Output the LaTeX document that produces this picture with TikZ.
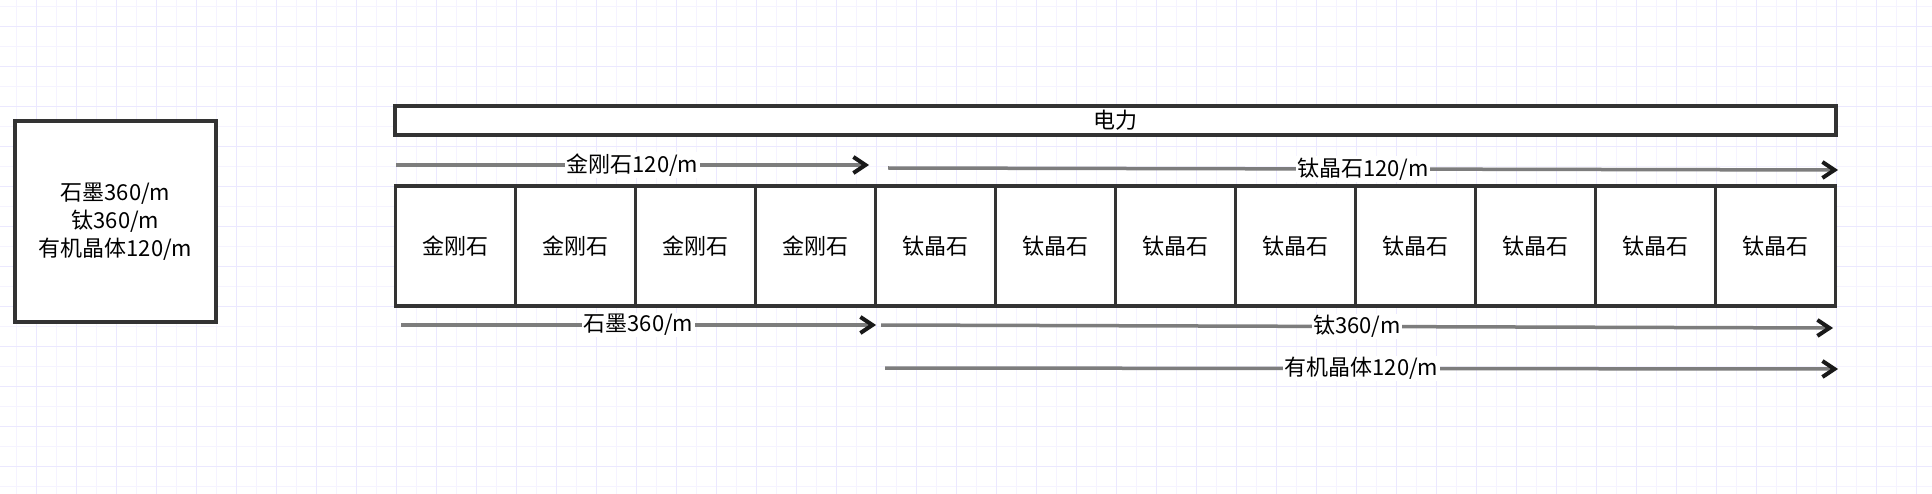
\documentclass[tikz,border=0pt]{standalone}
\usepackage{fontspec}
\setmainfont{Noto Sans CJK SC}
\usetikzlibrary{arrows.meta}
\definecolor{gridmin}{RGB}{245,243,255}
\definecolor{gridmaj}{RGB}{235,232,255}
\definecolor{edge}{RGB}{51,51,51}
\definecolor{shaft}{RGB}{125,125,125}
\tikzset{
  box/.style={draw=edge,line width=3.5pt,fill=white,inner sep=0pt},
  cell/.style={box,minimum width=120pt,minimum height=120pt},
  flow/.style={draw=shaft,line width=3.5pt,-{Straight Barb[length=12pt,width=16pt,line width=4pt,color=black!90]}},
  tag/.style={fill=white,inner sep=1.5pt}
}
\begin{document}
\begin{tikzpicture}[x=1pt,y=-1pt,font=\fontsize{22}{28}\selectfont]
        \useasboundingbox[fill=white] (0,0) rectangle (1932,494);
        % background grid
        \foreach \x in {16.7,56.7,...,1932} \draw[gridmin,line width=1.5pt] (\x,0) -- (\x,494);
        \foreach \y in {6.7,46.7,...,494} \draw[gridmin,line width=1.5pt] (0,\y) -- (1932,\y);
        \foreach \x in {36.7,76.7,...,1932} \draw[gridmaj,line width=1.5pt] (\x,0) -- (\x,494);
        \foreach \y in {26.7,66.7,...,494} \draw[gridmaj,line width=1.5pt] (0,\y) -- (1932,\y);
        % stock and power
        \node[box,minimum width=201pt,minimum height=201pt,align=center] (stock) at (115.5,221.5) {石墨360/m\\钛360/m\\有机晶体120/m};
        \node[box,minimum width=1441pt,minimum height=29pt] (power) at (1115.5,120.5) {电力};
        % cells
        \node[cell] (c1) at (455.5,246) {金刚石};
        \node[cell] (c2) at (575.5,246) {金刚石};
        \node[cell] (c3) at (695.5,246) {金刚石};
        \node[cell] (c4) at (815.5,246) {金刚石};
        \node[cell] (c5) at (935.5,246) {钛晶石};
        \node[cell] (c6) at (1055.5,246) {钛晶石};
        \node[cell] (c7) at (1175.5,246) {钛晶石};
        \node[cell] (c8) at (1295.5,246) {钛晶石};
        \node[cell] (c9) at (1415.5,246) {钛晶石};
        \node[cell] (c10) at (1535.5,246) {钛晶石};
        \node[cell] (c11) at (1655.5,246) {钛晶石};
        \node[cell] (c12) at (1775.5,246) {钛晶石};
        % flows
        \coordinate (dia0) at (396,165);
        \coordinate (dia1) at (869,165);
        \coordinate (tit0) at (888,168);
        \coordinate (tit1) at (1838,170);
        \coordinate (gra0) at (401,325);
        \coordinate (gra1) at (876,325);
        \coordinate (ti0) at (881,325);
        \coordinate (ti1) at (1833,328);
        \coordinate (org0) at (885,368);
        \coordinate (org1) at (1838,369);
        \draw[flow] (dia0) -- node[tag] {金刚石120/m} (dia1);
        \draw[flow] (tit0) -- node[tag] {钛晶石120/m} (tit1);
        \draw[flow] (gra0) -- node[tag] {石墨360/m} (gra1);
        \draw[flow] (ti0) -- node[tag] {钛360/m} (ti1);
        \draw[flow] (org0) -- node[tag] {有机晶体120/m} (org1);
      \end{tikzpicture}
\end{document}
